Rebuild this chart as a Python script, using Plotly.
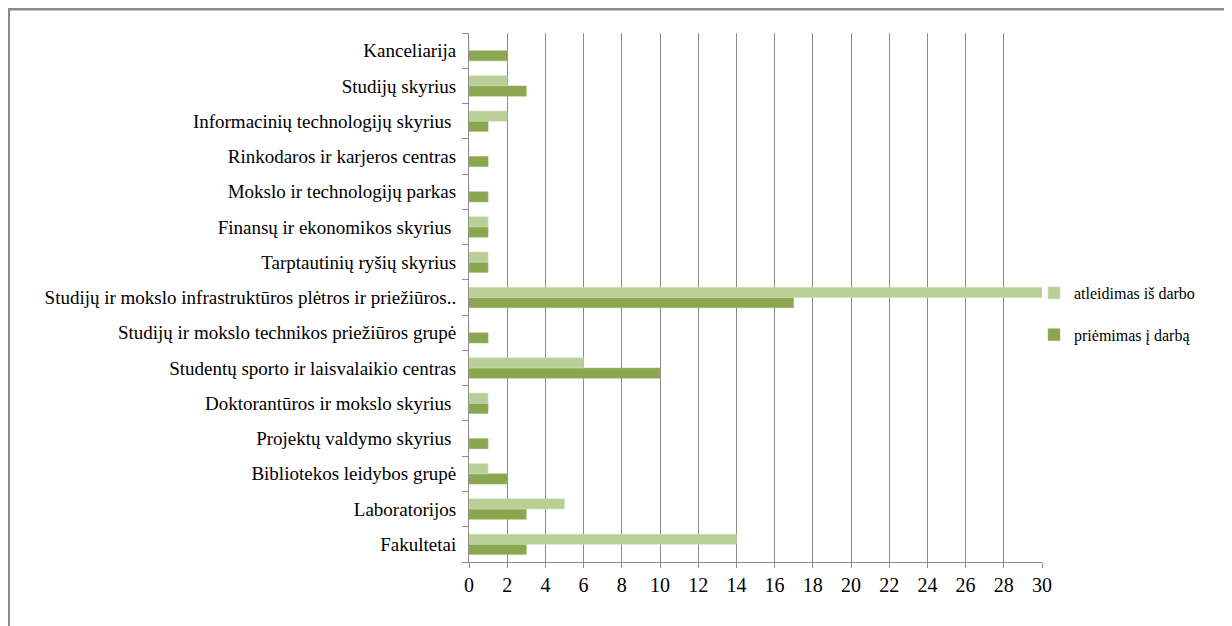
import plotly.graph_objects as go

categories = [
    "Kanceliarija",
    "Studijų skyrius",
    "Informacinių technologijų skyrius ",
    "Rinkodaros ir karjeros centras",
    "Mokslo ir technologijų parkas",
    "Finansų ir ekonomikos skyrius ",
    "Tarptautinių ryšių skyrius",
    "Studijų ir mokslo infrastruktūros plėtros ir priežiūros..",
    "Studijų ir mokslo technikos priežiūros grupė",
    "Studentų sporto ir laisvalaikio centras",
    "Doktorantūros ir mokslo skyrius ",
    "Projektų valdymo skyrius ",
    "Bibliotekos leidybos grupė",
    "Laboratorijos",
    "Fakultetai",
]
atleidimas = [0, 2, 2, 0, 0, 1, 1, 30, 0, 6, 1, 0, 1, 5, 14]
priemimas = [2, 3, 1, 1, 1, 1, 1, 17, 1, 10, 1, 1, 2, 3, 3]
x_ticks = list(range(0, 31, 2))

cats = categories[::-1]
atl = atleidimas[::-1]
pri = priemimas[::-1]

FONT = "Liberation Serif, DejaVu Serif, serif"

fig = go.Figure()
fig.add_trace(go.Bar(
    y=cats, x=pri, orientation="h", name="priėmimas į darbą",
    marker=dict(color="#8AA64E", line=dict(color="#9DB86A", width=0.5)),
    legendgroup="b", legendrank=2,
))
fig.add_trace(go.Bar(
    y=cats, x=atl, orientation="h", name="atleidimas iš darbo",
    marker=dict(color="#BACF97", line=dict(color="#CFE0B4", width=0.5)),
    legendgroup="a", legendrank=1,
))

# figure coords (page has 8px body margin)
W, H = 1224, 618
L, T = 461, 25
R = W - (1042 - 8)
B = H - (562 - 8)
pw = W - L - R
ph = H - T - B

fig.update_layout(
    width=W, height=H,
    margin=dict(l=L, r=R, t=T, b=B),
    paper_bgcolor="white", plot_bgcolor="white",
    barmode="group", bargap=0.42, bargroupgap=0,
    font=dict(family=FONT, color="black", size=19),
    showlegend=True,
    legend=dict(
        x=(1034 - 8 - L) / pw, xanchor="left",
        y=(H - B - (314 - 8)) / ph, yanchor="middle",
        traceorder="grouped", tracegroupgap=18,
        font=dict(family=FONT, size=16, color="black"),
        itemwidth=30,
        bgcolor="rgba(0,0,0,0)",
    ),
    xaxis=dict(
        range=[0, 30], tickvals=x_ticks, ticktext=[str(v) for v in x_ticks],
        showgrid=True, gridcolor="#8C8C8C", gridwidth=1,
        showline=True, linecolor="#8C8C8C", linewidth=1,
        ticks="outside", ticklen=5, tickcolor="#8C8C8C",
        tickfont=dict(family=FONT, size=20, color="black"),
        zeroline=False, fixedrange=True,
    ),
    yaxis=dict(
        categoryorder="array", categoryarray=cats,
        showline=True, linecolor="#8C8C8C", linewidth=1,
        ticks="outside", ticklen=6, tickcolor="#8C8C8C", tickson="boundaries",
        ticklabelstandoff=8,
        tickfont=dict(family=FONT, size=19, color="black"),
        showgrid=False, fixedrange=True,
    ),
    shapes=[
        dict(type="line", xref="paper", yref="paper",
             x0=(0 - L) / pw, x1=(W + 10 - L) / pw,
             y0=1 + (T - 1) / ph, y1=1 + (T - 1) / ph,
             line=dict(color="#8C8C8C", width=3)),
        dict(type="line", xref="paper", yref="paper",
             x0=(0.5 - L) / pw, x1=(0.5 - L) / pw,
             y0=1 + (T - 0) / ph, y1=-(B + 10) / ph,
             line=dict(color="#8C8C8C", width=3)),
    ],
)

fig.write_html("out.html")
